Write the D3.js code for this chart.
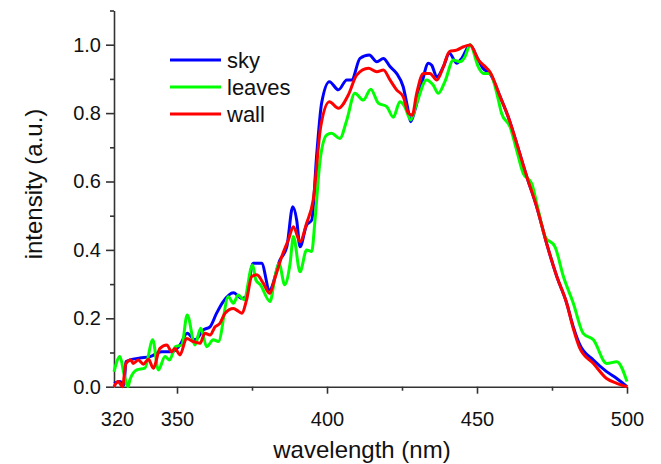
<!DOCTYPE html>
<meta charset="utf-8">
<head>
  <script src="https://d3js.org/d3.v7.min.js"></script>

<style>
body { margin: 0; background: #fff; }
svg { display: block; font-family: "Liberation Sans", Arial, sans-serif; }
.axis path, .axis line { stroke: #333; stroke-width: 1.6; }
.axis text { fill: #111; font-size: 20px; font-family: "Liberation Sans", Arial, sans-serif; }
.legend { fill: #111; font-size: 22px; }
.title { fill: #111; font-size: 24px; }
.curve { fill: none; stroke-width: 3; stroke-linejoin: round; }
</style>
</head>
<body>
<script>

// Data (wavelength nm, normalised intensity)
var skyWl = [329, 331, 332.3, 333, 334.3, 337.7, 341, 344.9, 348.2, 351, 353.4, 356, 358.8, 361, 363.2, 365.4, 368.8, 371.6, 373, 375.4, 378.2, 380.8, 384.3, 386.6, 388.6, 389.9, 391, 393.2, 394.9, 396.6, 398.2, 400.8, 403.8, 406.6, 408.2, 411, 414.1, 416.6, 418.8, 421, 423.2, 425.4, 426.8, 427.9, 429.3, 431.6, 433.8, 434.9, 436.6, 438.8, 440.8, 443.2, 444.9, 447.7, 449.9, 452, 454.3, 457.7, 460.4, 463.2, 466.6, 469.9, 473.2, 476.6, 479.9, 482.1, 484.3, 488.8, 493.2, 496.6, 500];
var skyInt = [0.01, 0.015, 0.005, 0.073, 0.078, 0.084, 0.088, 0.102, 0.102, 0.122, 0.156, 0.137, 0.166, 0.175, 0.215, 0.249, 0.275, 0.258, 0.263, 0.361, 0.361, 0.283, 0.370, 0.409, 0.526, 0.487, 0.409, 0.473, 0.487, 0.682, 0.829, 0.892, 0.868, 0.897, 0.897, 0.960, 0.970, 0.950, 0.960, 0.936, 0.916, 0.877, 0.819, 0.775, 0.809, 0.887, 0.946, 0.940, 0.906, 0.936, 0.975, 0.946, 0.960, 0.999, 0.965, 0.931, 0.916, 0.848, 0.789, 0.712, 0.614, 0.526, 0.419, 0.322, 0.244, 0.175, 0.122, 0.078, 0.044, 0.024, 0.0];

var leavesWl = [329, 331, 332.3, 333.7, 334.3, 336.6, 339.3, 341.9, 343.8, 346, 347.5, 349.5, 351.6, 353.4, 356, 357.9, 359.9, 362.1, 363.8, 367.1, 368.8, 370.4, 372.3, 375.2, 376.3, 377.8, 381, 382.8, 384, 385.9, 387.7, 388.8, 391, 393.2, 394.9, 396, 397.7, 399.9, 401.5, 404.3, 406.6, 409.3, 412.1, 414.6, 417.1, 419.9, 422.1, 424.3, 425.9, 427.9, 429.9, 433.2, 435.4, 437.1, 439.3, 442.1, 444.3, 446, 447.7, 450.4, 452.1, 454.3, 456.6, 458.2, 461, 463.2, 465.4, 468.2, 470.4, 472.7, 476, 478.8, 482.1, 485.4, 488.8, 493.2, 496.6, 500];
var leavesInt = [0.044, 0.088, 0.039, 0.0, 0.020, 0.049, 0.054, 0.137, 0.049, 0.088, 0.078, 0.117, 0.122, 0.210, 0.122, 0.171, 0.117, 0.137, 0.132, 0.263, 0.244, 0.268, 0.254, 0.356, 0.312, 0.298, 0.249, 0.327, 0.361, 0.298, 0.361, 0.439, 0.336, 0.400, 0.395, 0.487, 0.663, 0.736, 0.741, 0.726, 0.780, 0.858, 0.838, 0.870, 0.829, 0.819, 0.788, 0.833, 0.819, 0.780, 0.829, 0.897, 0.882, 0.858, 0.892, 0.955, 0.950, 0.965, 1.0, 0.936, 0.916, 0.916, 0.858, 0.799, 0.760, 0.692, 0.624, 0.595, 0.517, 0.439, 0.409, 0.322, 0.244, 0.156, 0.137, 0.068, 0.073, 0.015];

var wallWl = [329, 330.4, 331.8, 333, 334.6, 335.4, 337.1, 338.8, 340.5, 342.1, 344.3, 346.6, 348.2, 349.3, 351, 353.2, 355.4, 357.7, 359.3, 361, 362.7, 364.3, 366, 368.8, 369.9, 371.6, 373.2, 374.9, 376.6, 378.8, 380.8, 382.8, 384.9, 387.1, 388.8, 391, 393.2, 395.4, 397.9, 400.8, 403.8, 407.1, 409.9, 413.8, 416.6, 418.8, 421, 423.2, 425.4, 427.2, 428.4, 429.9, 432.1, 434.3, 436.6, 438.8, 440.8, 443.2, 445.5, 447.7, 450.5, 452.7, 454.3, 457.7, 460.4, 463.2, 466.6, 469.9, 473.2, 476.6, 479.9, 482.1, 484.3, 488.8, 493.2, 496.6, 500];
var wallInt = [0.0, 0.015, 0.0, 0.068, 0.078, 0.068, 0.078, 0.066, 0.080, 0.054, 0.112, 0.122, 0.102, 0.112, 0.093, 0.141, 0.132, 0.127, 0.156, 0.151, 0.175, 0.185, 0.215, 0.229, 0.224, 0.215, 0.254, 0.322, 0.327, 0.302, 0.273, 0.322, 0.380, 0.429, 0.468, 0.424, 0.478, 0.546, 0.760, 0.833, 0.814, 0.853, 0.911, 0.931, 0.921, 0.926, 0.897, 0.868, 0.848, 0.799, 0.794, 0.858, 0.916, 0.916, 0.897, 0.936, 0.980, 0.984, 0.994, 0.999, 0.955, 0.936, 0.921, 0.848, 0.789, 0.712, 0.614, 0.526, 0.419, 0.322, 0.244, 0.170, 0.112, 0.068, 0.024, 0.010, 0.0];

var seriesNames = ["sky", "leaves", "wall"];
var seriesColors = ["#0000ff", "#00ff00", "#ff0000"];

var xMajor = [329, 350, 400, 450, 500];
var xMajorLabels = ["320", "350", "400", "450", "500"];
var xMinor = [375, 425, 475];
var yMajor = [0, 0.2, 0.4, 0.6, 0.8, 1.0];
var yMinor = [0.1, 0.3, 0.5, 0.7, 0.9, 1.1];

// Set dimensions
var width = 661, height = 464;
var plot = {left: 114, right: 627, top: 10.5, bottom: 386.7};

var svg = d3.select("body").append("svg")
    .attr("width", width)
    .attr("height", height);

// Set ranges
var x = d3.scaleLinear().domain([329, 500]).range([plot.left, plot.right]);
var y = d3.scaleLinear().domain([0, 1.1]).range([plot.bottom, plot.top]);

// Minor ticks
svg.append("g")
    .attr("class", "axis")
    .attr("transform", "translate(0," + plot.bottom + ")")
    .call(d3.axisBottom(x).tickValues(xMinor).tickSize(4).tickSizeOuter(0).tickFormat(""))
    .select(".domain").remove();
svg.append("g")
    .attr("class", "axis")
    .attr("transform", "translate(" + plot.left + ",0)")
    .call(d3.axisLeft(y).tickValues(yMinor).tickSize(4).tickSizeOuter(0).tickFormat(""))
    .select(".domain").remove();

// Add x axis
var xAxis = svg.append("g")
    .attr("class", "axis")
    .attr("transform", "translate(0," + plot.bottom + ")")
    .call(d3.axisBottom(x)
        .tickValues(xMajor)
        .tickSize(7)
        .tickSizeOuter(0)
        .tickPadding(18)
        .tickFormat(function(d, i) { return xMajorLabels[i]; }));
xAxis.select(".tick line").remove();
xAxis.select(".tick text").attr("dx", "3");

// Add y axis
svg.append("g")
    .attr("class", "axis")
    .attr("transform", "translate(" + plot.left + ",0)")
    .call(d3.axisLeft(y)
        .tickValues(yMajor)
        .tickSize(8)
        .tickSizeOuter(0)
        .tickPadding(5)
        .tickFormat(d3.format(".1f")));

// Curves
var line = d3.line()
    .x(function(d) { return x(d[0]); })
    .y(function(d) { return y(d[1]); })
    .curve(d3.curveMonotoneX);

var series = [
  d3.zip(skyWl, skyInt),
  d3.zip(leavesWl, leavesInt),
  d3.zip(wallWl, wallInt)
];

series.forEach(function(s, i) {
  svg.append("path")
      .datum(s)
      .attr("class", "curve")
      .attr("stroke", seriesColors[i])
      .attr("d", line);
});

// Legend
var legend = svg.append("g");
seriesNames.forEach(function(name, i) {
  var ly = 60 + i * 27;
  legend.append("line")
      .attr("x1", 170).attr("x2", 221)
      .attr("y1", ly).attr("y2", ly)
      .attr("stroke", seriesColors[i])
      .attr("stroke-width", 3);
  legend.append("text")
      .attr("class", "legend")
      .attr("x", 227).attr("y", ly)
      .attr("dy", "0.35em")
      .text(name);
});

// Axis titles
svg.append("text")
    .attr("class", "title")
    .attr("text-anchor", "middle")
    .attr("x", 362).attr("y", 458)
    .text("wavelength (nm)");

svg.append("text")
    .attr("class", "title")
    .attr("text-anchor", "middle")
    .attr("transform", "translate(42,184) rotate(-90)")
    .text("intensity (a.u.)");

</script>
</body>
